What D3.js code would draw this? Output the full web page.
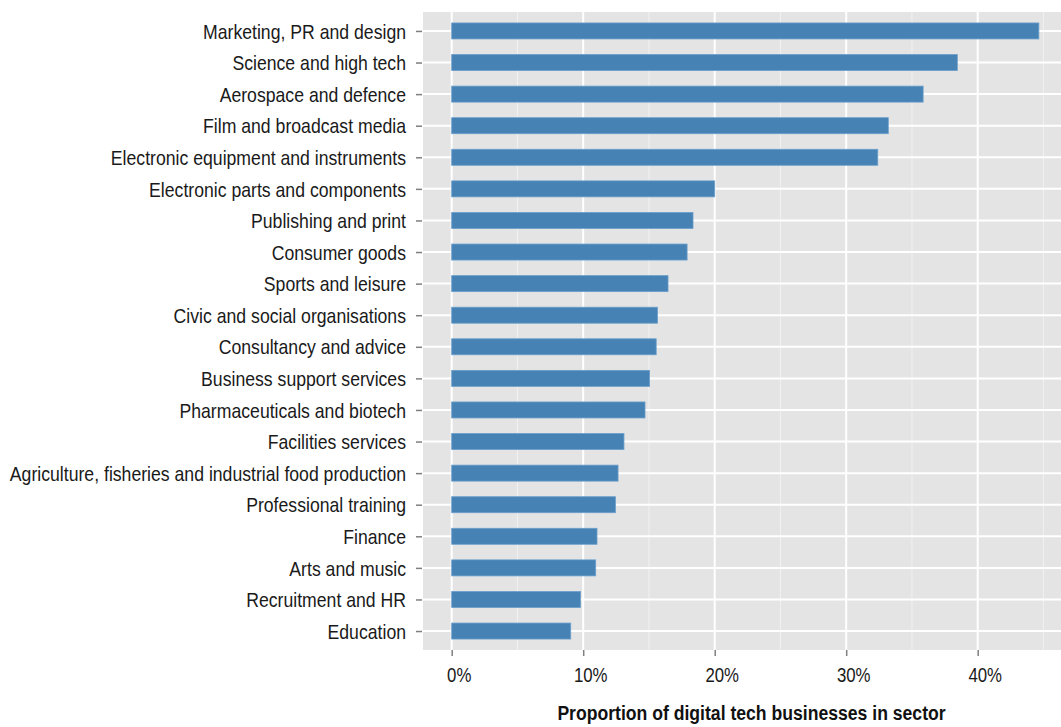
<!DOCTYPE html>
<html>
<head>
<meta charset="utf-8">
<script src="https://cdn.jsdelivr.net/npm/d3@7"></script>
<style>
  html, body { margin: 0; padding: 0; background: #ffffff; }
  svg { display: block; }
  .lbl { font-family: "Liberation Sans", Arial, sans-serif; }
</style>
</head>
<body>
<svg id="chart" width="1061" height="727"></svg>
<script>
const categories = [
  "Marketing, PR and design",
  "Science and high tech",
  "Aerospace and defence",
  "Film and broadcast media",
  "Electronic equipment and instruments",
  "Electronic parts and components",
  "Publishing and print",
  "Consumer goods",
  "Sports and leisure",
  "Civic and social organisations",
  "Consultancy and advice",
  "Business support services",
  "Pharmaceuticals and biotech",
  "Facilities services",
  "Agriculture, fisheries and industrial food production",
  "Professional training",
  "Finance",
  "Arts and music",
  "Recruitment and HR",
  "Education"
];
const values = [44.65, 38.45, 35.85, 33.2, 32.4, 20.0, 18.35, 17.9, 16.45, 15.65, 15.55, 15.05, 14.7, 13.1, 12.65, 12.45, 11.05, 10.95, 9.8, 9.05];
const xTicks = [0, 10, 20, 30, 40];
const xTickLabels = ["0%", "10%", "20%", "30%", "40%"];
const xMinor = [5, 15, 25, 35, 45];
const xTitle = "Proportion of digital tech businesses in sector";

const svg = d3.select("#chart");
const panel = { left: 423, right: 1070, top: 12, bottom: 650 };

const x = d3.scaleLinear().domain([0, 40]).range([451.7, 977.7]);
const y = d3.scalePoint().domain(categories).range([panel.top, panel.bottom]).padding(0.6);
const barH = 16;
const narrow = 0.84; // emulate condensed face

function condense(sel, k) {
  sel.each(function () {
    const len = this.getComputedTextLength();
    d3.select(this).attr("textLength", len * k).attr("lengthAdjust", "spacingAndGlyphs");
  });
}

// panel
svg.append("rect")
  .attr("x", panel.left).attr("y", panel.top)
  .attr("width", panel.right - panel.left).attr("height", panel.bottom - panel.top)
  .attr("fill", "#e4e4e4");

// minor vertical grid
svg.append("g").selectAll("line").data(xMinor).join("line")
  .attr("x1", d => x(d)).attr("x2", d => x(d))
  .attr("y1", panel.top).attr("y2", panel.bottom)
  .attr("stroke", "#f1f1f1").attr("stroke-width", 1);

// major vertical grid
svg.append("g").selectAll("line").data(xTicks).join("line")
  .attr("x1", d => x(d)).attr("x2", d => x(d))
  .attr("y1", panel.top).attr("y2", panel.bottom)
  .attr("stroke", "#ffffff").attr("stroke-width", 2);

// horizontal grid
svg.append("g").selectAll("line").data(categories).join("line")
  .attr("x1", panel.left).attr("x2", panel.right)
  .attr("y1", d => y(d)).attr("y2", d => y(d))
  .attr("stroke", "#ffffff").attr("stroke-width", 2);

// bars
svg.append("g").selectAll("rect").data(categories).join("rect")
  .attr("x", x(0))
  .attr("y", d => y(d) - barH / 2)
  .attr("width", (d, i) => x(values[i]) - x(0))
  .attr("height", barH)
  .attr("fill", "#4682b4")
  .attr("stroke", "#6a9fcc").attr("stroke-width", 0.8);

// y axis ticks & labels
const yAxis = d3.axisLeft(y).tickSize(6).tickPadding(10);
const gy = svg.append("g").attr("transform", `translate(${panel.left - 1},0)`).call(yAxis);
gy.select(".domain").remove();
gy.selectAll(".tick line").attr("stroke", "#7f7f7f").attr("stroke-width", 1.5);
gy.selectAll(".tick text")
  .attr("class", "lbl")
  .attr("fill", "#1a1a1a")
  .attr("dy", "0.34em")
  .style("font-size", "21px")
  .call(condense, narrow);

// x axis
const xAxis = d3.axisBottom(x).tickValues(xTicks).tickFormat((d, i) => xTickLabels[i]).tickSize(6).tickPadding(12);
const gx = svg.append("g").attr("transform", `translate(0,${panel.bottom})`).call(xAxis);
gx.select(".domain").remove();
gx.selectAll(".tick line").attr("stroke", "#7f7f7f").attr("stroke-width", 1.5);
gx.selectAll(".tick text")
  .attr("class", "lbl")
  .attr("fill", "#1a1a1a")
  .attr("dx", 7)
  .style("font-size", "20px")
  .call(condense, narrow);

// x title
svg.append("text")
  .attr("class", "lbl")
  .attr("x", 751.5).attr("y", 720)
  .attr("text-anchor", "middle")
  .attr("fill", "#111111")
  .style("font-size", "20px")
  .style("font-weight", "bold")
  .text(xTitle)
  .call(condense, 0.88);
</script>
</body>
</html>
